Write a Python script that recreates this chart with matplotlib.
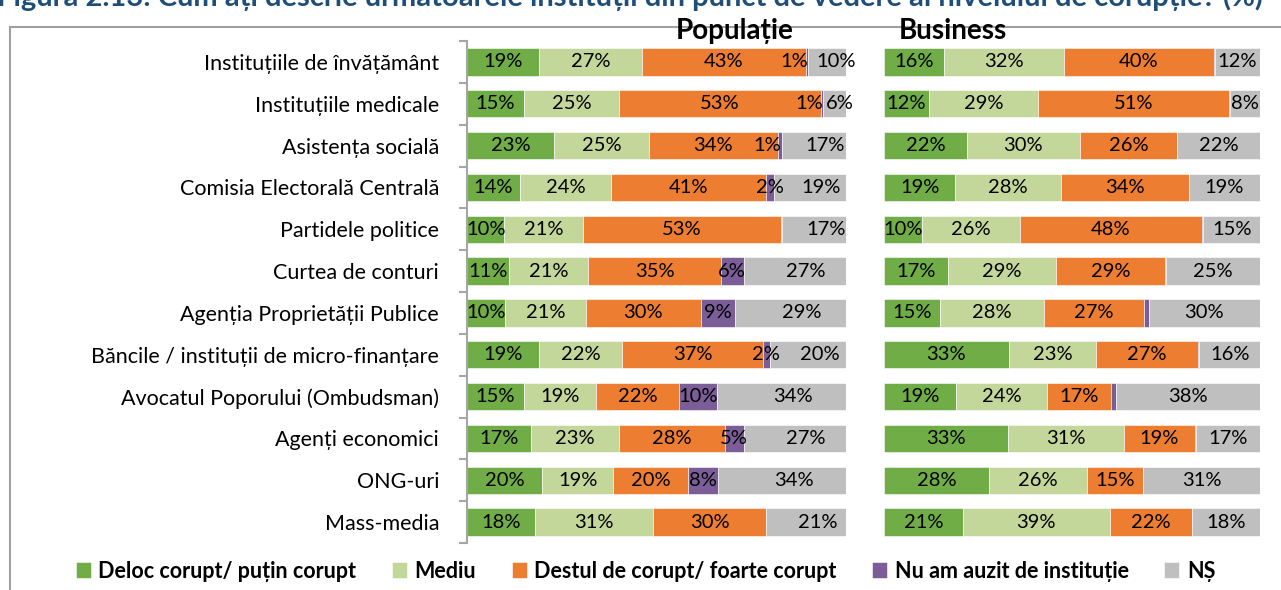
import numpy as np
import matplotlib
matplotlib.use('Agg')
import matplotlib.pyplot as plt
from matplotlib.lines import Line2D

plt.rcParams['font.family'] = ['Lato', 'DejaVu Sans']

# Data (% of respondents)
categories = ['Instituțiile de învățământ', 'Instituțiile medicale', 'Asistența socială',
              'Comisia Electorală Centrală', 'Partidele politice', 'Curtea de conturi',
              'Agenția Proprietății Publice', 'Băncile / instituții de micro-finanțare',
              'Avocatul Poporului (Ombudsman)', 'Agenți economici', 'ONG-uri', 'Mass-media']
series_names = ['Deloc corupt/ puțin corupt', 'Mediu', 'Destul de corupt/ foarte corupt',
                'Nu am auzit de instituție', 'NȘ']
colors = ['#70AD47', '#C4D79B', '#ED7D31', '#7B5E98', '#BFBFBF']

pop_deloc = [19, 15, 23, 14, 10, 11, 10, 19, 15, 17, 20, 18]
pop_mediu = [27, 25, 25, 24, 21, 21, 21, 22, 19, 23, 19, 31]
pop_destul = [43, 53, 34, 41, 53, 35, 30, 37, 22, 28, 20, 30]
pop_nu_auzit = [0.6, 0.6, 1, 2, 0.3, 6, 9, 2, 10, 5, 8, 0]
pop_ns = [10, 6, 17, 19, 17, 27, 29, 20, 34, 27, 34, 21]

bus_deloc = [16, 12, 22, 19, 10, 17, 15, 33, 19, 33, 28, 21]
bus_mediu = [32, 29, 30, 28, 26, 29, 28, 23, 24, 31, 26, 39]
bus_destul = [40, 51, 26, 34, 48, 29, 27, 27, 17, 19, 15, 22]
bus_nu_auzit = [0.4, 0.3, 0, 0, 0.4, 0.3, 1.2, 0.4, 1.3, 0.3, 0, 0]
bus_ns = [12, 8, 22, 19, 15, 25, 30, 16, 38, 17, 31, 18]

title = 'Figura 2.13: Cum ați descrie următoarele instituții din punct de vedere al nivelului de corupție? (%)'

VALUE_SIZE = 14.5


def draw_panel(ax, series, label_purple):
    data = np.array(series, dtype=float)
    totals = data.sum(axis=0)
    shares = data / totals * 100
    y = np.arange(len(categories))
    left = np.zeros(len(categories))
    handles = []
    for i, (vals, raw) in enumerate(zip(shares, data)):
        bars = ax.barh(y, vals, left=left, height=0.65, color=colors[i],
                       edgecolor='white', linewidth=0.4, label=series_names[i])
        handles.append(bars)
        for yy, l, w, v in zip(y, left, vals, raw):
            if round(v) < 1 or (i == 3 and not label_purple):
                continue
            if w < 1.5:
                ax.text(l + w, yy, f'{v:.0f}%', ha='right', va='center', fontsize=VALUE_SIZE)
            elif i == 4 and label_purple:
                # gray labels sit a bit right of centre in the original
                ax.text(l + w / 2 + min(w / 4, 3), yy, f'{v:.0f}%', ha='center', va='center',
                        fontsize=VALUE_SIZE)
            else:
                ax.text(l + w / 2, yy, f'{v:.0f}%', ha='center', va='center', fontsize=VALUE_SIZE)
        left += vals
    ax.set_xlim(0, 100)
    ax.set_ylim(len(categories) - 0.5, -0.5)
    ax.set_xticks([])
    for s in ['top', 'right', 'bottom']:
        ax.spines[s].set_visible(False)
    return handles


fig = plt.figure(figsize=(12.81, 5.9), dpi=100)
ax1 = fig.add_axes([467 / 1281, 47 / 590, 379 / 1281, 502 / 590])
ax2 = fig.add_axes([884 / 1281, 47 / 590, 376 / 1281, 502 / 590])

handles = draw_panel(ax1, [pop_deloc, pop_mediu, pop_destul, pop_nu_auzit, pop_ns], True)
draw_panel(ax2, [bus_deloc, bus_mediu, bus_destul, bus_nu_auzit, bus_ns], False)

# category axis on the left panel
ax1.spines['left'].set_color('#A6A6A6')
ax1.spines['left'].set_linewidth(1.5)
ax1.set_yticks(np.arange(len(categories)))
ax1.set_yticklabels(categories, fontsize=15.5)
ax1.tick_params(axis='y', which='major', length=0, pad=20)
ax1.set_yticks(np.arange(len(categories) + 1) - 0.5, minor=True)
ax1.tick_params(axis='y', which='minor', length=6, width=1.5, color='#A6A6A6')

ax2.spines['left'].set_visible(False)
ax2.set_yticks([])

# panel headers
fig.text(735 / 1281, 1 - 31 / 590, 'Populație', ha='center', va='center',
         fontsize=20, fontweight='bold')
fig.text(953 / 1281, 1 - 31 / 590, 'Business', ha='center', va='center',
         fontsize=20, fontweight='bold')

# caption, cut off at the top edge as in the original
fig.text(-0.002, 1 + 3 / 590, title, ha='left', va='center', fontsize=21,
         fontweight='bold', color='#1F4E79')

# chart frame
fig.add_artist(Line2D([10 / 1281, 10 / 1281], [0, 1 - 27 / 590], transform=fig.transFigure,
                      color='#A0A0A0', linewidth=1.5))
fig.add_artist(Line2D([10 / 1281, 1], [1 - 27 / 590, 1 - 27 / 590], transform=fig.transFigure,
                      color='#A0A0A0', linewidth=1.5))

leg = fig.legend(handles=handles, loc='center', bbox_to_anchor=(0.504, 19 / 590), ncol=5,
                 frameon=False, handlelength=0.7, handleheight=0.7, handletextpad=0.35,
                 columnspacing=1.65, prop={'size': 15.5, 'weight': 'bold'})

fig.savefig('out.png', dpi=100)
